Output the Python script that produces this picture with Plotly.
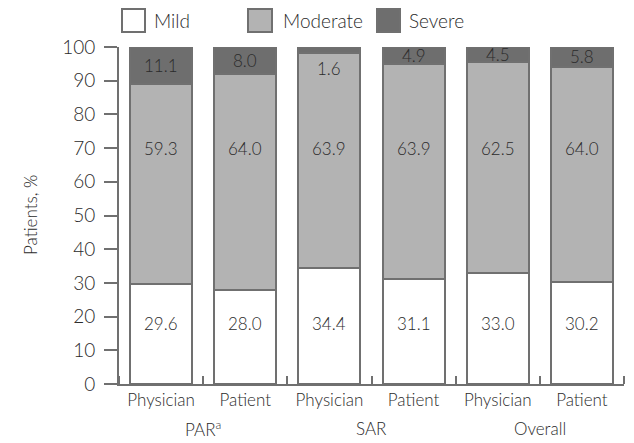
import plotly.graph_objects as go

categories = ["Physician", "Patient", "Physician", "Patient", "Physician", "Patient"]
groups = ["PAR<sup>a</sup>", "SAR", "Overall"]
mild = [29.6, 28.0, 34.4, 31.1, 33.0, 30.2]
moderate = [59.3, 64.0, 63.9, 63.9, 62.5, 64.0]
severe = [11.1, 8.0, 1.6, 4.9, 4.5, 5.8]
y_ticks = [0, 10, 20, 30, 40, 50, 60, 70, 80, 90, 100]
series_names = ["Mild", "Moderate", "Severe"]

FONT = "Lato, 'Open Sans', sans-serif"
TXT = "#2b2b2b"
LINE = "#707070"
colors = ["#ffffff", "#b3b3b3", "#6e6e6e"]

# page body has an 8px margin; work in reference pixel coords and offset
OFF = 8
W, H = 634 - OFF, 443 - OFF
L, R, T, B = 119 - OFF, 624 - OFF, 47 - OFF, 384 - OFF


def px(x):
    return (x - OFF - L) / (R - L)


def py(y):
    return (B - (y - OFF)) / (B - T)


xs = list(range(len(categories)))

fig = go.Figure()
for name, vals, col in zip(series_names, [mild, moderate, severe], colors):
    fig.add_trace(go.Bar(
        x=xs, y=vals, name=name, width=0.735,
        marker=dict(color=col, line=dict(color=LINE, width=2)),
        showlegend=False,
    ))

vfont = dict(size=17, color=TXT, family=FONT, weight=300)
annotations = []
for i in xs:
    annotations.append(dict(x=i, y=18, text=f"{mild[i]:.1f}", showarrow=False, font=vfont))
    annotations.append(dict(x=i, y=70, text=f"{moderate[i]:.1f}", showarrow=False, font=vfont))
    sev = severe[i]
    ys = 100 - sev / 2 if sev >= 4 else 100 - 6.5
    annotations.append(dict(x=i, y=ys, text=f"{sev:.1f}", showarrow=False, font=vfont))

for g, label in enumerate(groups):
    annotations.append(dict(x=2 * g + 0.5, y=py(428), yref="paper", text=label,
                            showarrow=False, xanchor="center", yanchor="middle",
                            font=dict(size=17, color=TXT, family=FONT, weight=300)))

annotations.append(dict(x=px(30), y=py(215), xref="paper", yref="paper",
                        text="Patients, %", textangle=-90, showarrow=False,
                        xanchor="center", yanchor="middle",
                        font=dict(size=17, color=TXT, family=FONT, weight=300)))

shapes = []
legend_boxes = [(122, 145), (248, 272), (377, 400)]
legend_text_x = [152, 281, 407]
for (x0, x1), tx, name, col in zip(legend_boxes, legend_text_x, series_names, colors):
    shapes.append(dict(type="rect", xref="paper", yref="paper",
                       x0=px(x0), x1=px(x1), y0=py(32), y1=py(9),
                       fillcolor=col, line=dict(color=LINE, width=2)))
    annotations.append(dict(x=px(tx), y=py(20), xref="paper", yref="paper",
                            text=name, showarrow=False, xanchor="left", yanchor="middle",
                            font=dict(size=19, color=TXT, family=FONT, weight=300)))

fig.update_layout(
    width=W, height=H,
    margin=dict(l=L, r=W - R, t=T, b=H - B),
    barmode="stack",
    plot_bgcolor="white", paper_bgcolor="white",
    font=dict(family=FONT, color=TXT),
    annotations=annotations, shapes=shapes,
    showlegend=False,
)
fig.update_xaxes(
    range=[-0.5, 5.5], tickmode="array", tickvals=xs, ticktext=categories,
    ticks="", showline=True, linecolor=LINE, linewidth=2, showgrid=False,
    tickfont=dict(size=17, color=TXT, family=FONT, weight=300), zeroline=False,
    minor=dict(tickmode="linear", tick0=0.5, dtick=1, ticks="inside",
               ticklen=8, tickcolor=LINE, tickwidth=2, showgrid=False),
)
fig.update_yaxes(
    range=[0, 100], tickmode="array", tickvals=y_ticks,
    ticks="outside", ticklen=13, tickwidth=2, tickcolor=LINE,
    showline=True, linecolor=LINE, linewidth=2, showgrid=False, zeroline=False,
    ticklabelstandoff=5,
    tickfont=dict(size=19, color=TXT, family=FONT, weight=300),
)

fig.write_html("out.html")
